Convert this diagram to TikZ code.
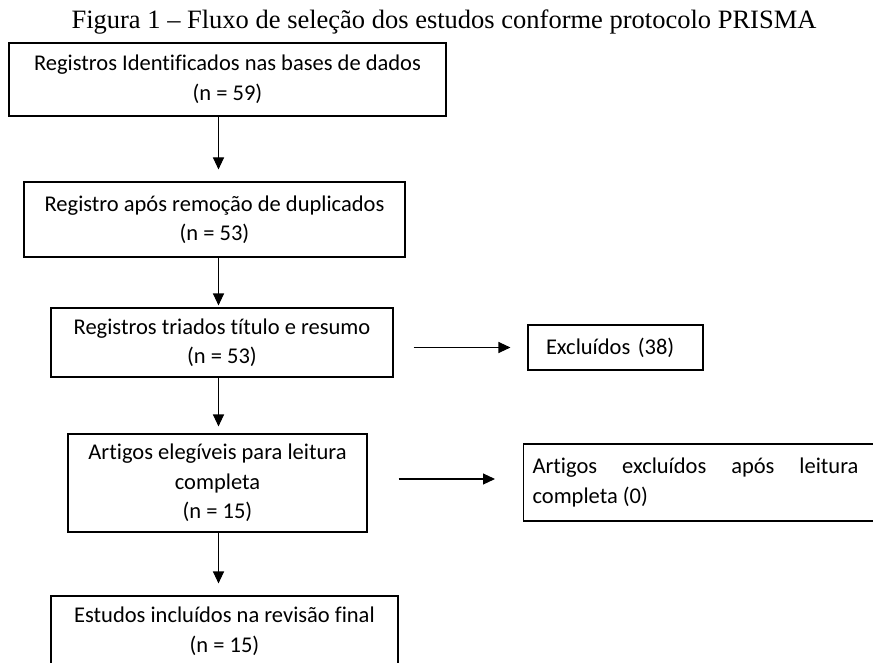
\documentclass[tikz,border=0pt]{standalone}
\usepackage{fontspec}
\setmainfont{Liberation Serif}
\newfontfamily\caixafonte{Carlito}[Ligatures=NoCommon]
\usetikzlibrary{arrows.meta}
\begin{document}
\begin{tikzpicture}[x=1pt,y=-1pt,
 caixa/.style={draw,line width=1.1pt,align=center,inner sep=0pt,font=\caixafonte\fontsize{22.5}{29.5}\selectfont},
 seta/.style={line width=1.1pt,-{Triangle[length=12pt,width=11pt]}}]
 \useasboundingbox (0,0) rectangle (873,663);

 \node (titulo) at (444,22) {\fontsize{26.5}{30}\selectfont Figura 1 -- Fluxo de seleção dos estudos conforme protocolo PRISMA};

 \node[caixa,minimum width=437pt,minimum height=73pt] (ident) at (227.5,79.5) {Registros Identificados nas bases de dados\\(n = 59)};
 \node[caixa,minimum width=381pt,minimum height=75pt] (dupl) at (214.5,219.5) {Registro após remoção de duplicados\\(n = 53)};
 \node[caixa,minimum width=342pt,minimum height=69pt] (triados) at (222,342.5) {Registros triados título e resumo\\(n = 53)};
 \node[caixa,minimum width=299pt,minimum height=98pt] (elegiveis) at (217.5,483) {Artigos elegíveis para leitura\\completa\\(n = 15)};
 \node[caixa,minimum width=347pt,minimum height=70pt] (incluidos) at (224.5,631) {Estudos incluídos na revisão final\\(n = 15)};

 \node[caixa,minimum width=175pt,minimum height=45pt,text width=139pt,align=left] (excl1) at (615.5,347.5) {Excluídos (38)};
 \node[caixa,minimum height=77pt,anchor=west] (excl2) at (523,482.5) {\hspace{9pt}\parbox{326pt}{Artigos excluídos após leitura\linebreak completa (0)}\hspace{40pt}};

 % setas verticais
 \coordinate (eixo) at (218.5,0);
 \draw[seta,shorten >=12pt] (ident.south -| eixo) -- (dupl.north -| eixo);
 \draw[seta,shorten >=2pt] (dupl.south -| eixo) -- (triados.north -| eixo);
 \draw[seta,shorten >=7pt] (triados.south -| eixo) -- (elegiveis.north -| eixo);
 \draw[seta,shorten >=12pt] (elegiveis.south -| eixo) -- (incluidos.north -| eixo);

 % exclusoes
 \draw[seta,shorten <=20pt,shorten >=17pt] (triados.east |- excl1) -- (excl1.west);
 \draw[seta,shorten <=31pt,shorten >=28pt] ([yshift=4pt]elegiveis.east) -- ([yshift=4pt]elegiveis.east -| excl2.west);

\end{tikzpicture}
\end{document}
